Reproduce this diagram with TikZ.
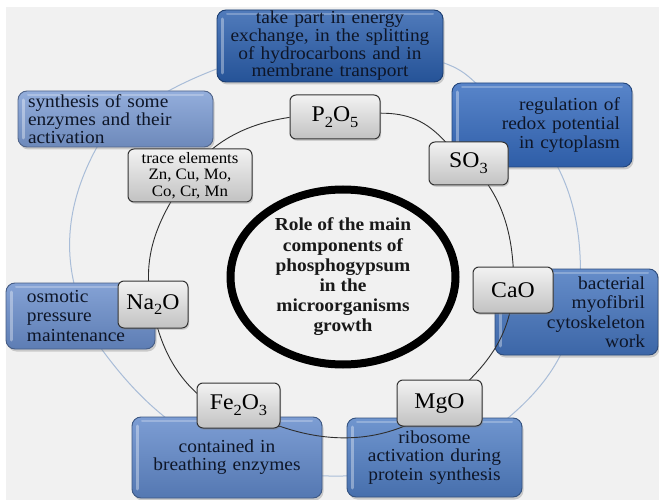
\documentclass[tikz,border=0pt]{standalone}
\usepackage{fontspec}
\setmainfont{Liberation Serif}[FakeStretch=1.06]
\usetikzlibrary{shapes.geometric,shadows}

\pgfdeclarelayer{back}
\pgfdeclarelayer{lowring}
\pgfdeclarelayer{midring}
\pgfdeclarelayer{front}
\pgfsetlayers{back,lowring,main,midring,front}

\definecolor{bgpanel}{HTML}{F1F1F1}
\definecolor{ringblue}{HTML}{A9BDD8}
\definecolor{ringdark}{HTML}{2E2E2E}
\definecolor{inktext}{HTML}{0E1628}
\definecolor{bTop}{RGB}{42,94,172}
\definecolor{bReg}{RGB}{52,106,190}
\definecolor{bBac}{RGB}{68,116,190}
\definecolor{bRib}{RGB}{80,126,196}
\definecolor{bCon}{RGB}{96,136,202}
\definecolor{bOsm}{RGB}{106,142,204}
\definecolor{bSyn}{RGB}{124,156,212}

% chemical subscript, set a little lower and larger than \textsubscript
\newcommand\chemsub[1]{\raisebox{-0.26em}{\fontsize{15.5}{15.5}\selectfont #1}}

\tikzset{
  glossy/.style={path picture={
    \draw[white, opacity=0.35, line width=3pt, line cap=round]
      ([xshift=5pt,yshift=-9pt]path picture bounding box.north west) --
      ([xshift=5pt,yshift=9pt]path picture bounding box.south west);
    \draw[white, opacity=0.25, line width=2pt, line cap=round]
      ([xshift=10pt,yshift=-4pt]path picture bounding box.north west) --
      ([xshift=-10pt,yshift=-4pt]path picture bounding box.north east);
  }},
  infobox/.style={
    rounded corners=9pt, draw=#1!65!black, line width=0.9pt,
    top color=#1!82!white, bottom color=#1!88!black,
    text=inktext, inner sep=0pt,
    font=\fontsize{18.3}{18}\selectfont,
    drop shadow={shadow xshift=1.5pt, shadow yshift=-2.5pt, opacity=0.35},
    glossy},
  oxide/.style={
    rounded corners=6pt, draw=black!80, line width=1pt,
    top color=black!5, bottom color=black!24,
    text=black, inner sep=0pt, align=center,
    font=\fontsize{22.4}{23}\selectfont,
    drop shadow={shadow xshift=1.2pt, shadow yshift=-1.8pt, opacity=0.3}},
  bluering/.style={draw=ringblue, line width=1pt},
  darkring/.style={draw=ringdark, line width=0.9pt},
  corering/.style={ellipse, draw=black, line width=8pt, inner sep=0pt,
    align=center, text=black!90,
    font=\bfseries\fontsize{18.3}{20.2}\selectfont},
}

\begin{document}
\begin{tikzpicture}[x=1pt, y=-1pt]
\path[use as bounding box] (0,0) rectangle (659,500);

% page strip and grey panel
\begin{pgfonlayer}{back}
  \fill[white] (0,0) rectangle (659,500);
  \fill[bgpanel] (6,7) rectangle (659,500);
\end{pgfonlayer}

% outer ring of function boxes
\node[infobox=bTop, minimum width=226pt, minimum height=72pt, text width=214pt,
      align=center, font=\fontsize{18.3}{16.6}\selectfont] (energy) at (330,46)
  {take part in energy\\exchange, in the splitting\\of hydrocarbons and in\\membrane transport};
\node[infobox=bReg, minimum width=180pt, minimum height=84pt, text width=156pt,
      align=right, font=\fontsize{18.3}{19.2}\selectfont] (redox) at (542,125)
  {regulation of\\redox potential\\in cytoplasm};
\node[infobox=bBac, minimum width=163pt, minimum height=86pt, text width=137pt,
      align=right, font=\fontsize{18.3}{19.5}\selectfont] (myo) at (576.5,312)
  {bacterial\\myofibril\\cytoskeleton\\work};
\node[infobox=bRib, minimum width=175pt, minimum height=79pt, text width=165pt,
      align=center, font=\fontsize{18.3}{18.3}\selectfont] (ribo) at (434.5,457.5)
  {ribosome\\activation during\\protein synthesis};
\node[infobox=bCon, minimum width=190pt, minimum height=81pt, text width=180pt,
      align=center] (breath) at (227,457.5)
  {contained in\\breathing enzymes};
\node[infobox=bOsm, minimum width=149pt, minimum height=66pt, text width=107pt,
      align=left, font=\fontsize{18.3}{19.5}\selectfont] (osmo) at (80.5,316)
  {osmotic\\pressure\\maintenance};
\node[infobox=bSyn, minimum width=195pt, minimum height=56pt, text width=175pt,
      align=left, font=\fontsize{18.3}{17.8}\selectfont] (synth) at (115.5,119)
  {synthesis of some\\enzymes and their\\activation};

% inner ring of components and the central title
\begin{pgfonlayer}{front}
  \node[oxide, minimum width=90pt, minimum height=44pt] (p2o5) at (335,117)
    {P\chemsub{2}O\chemsub{5}};
  \node[oxide, minimum width=79pt, minimum height=43pt] (so3) at (468.5,163.5)
    {SO\chemsub{3}};
  \node[oxide, minimum width=80pt, minimum height=46pt] (cao) at (513,290)
    {CaO};
  \node[oxide, minimum width=85pt, minimum height=46pt] (mgo) at (439.5,403)
    {MgO};
  \node[oxide, minimum width=83pt, minimum height=45pt] (fe2o3) at (238.5,405.5)
    {Fe\chemsub{2}O\chemsub{3}};
  \node[oxide, minimum width=70pt, minimum height=47pt] (na2o) at (153,304.5)
    {Na\chemsub{2}O};
  \node[oxide, minimum width=124pt, minimum height=53pt,
        font=\fontsize{15.9}{16.7}\selectfont] (trace) at (190,175.5)
    {trace elements\\Zn, Cu, Mo,\\Co, Cr, Mn};
  \node[corering, minimum width=225pt, minimum height=175pt] (core) at (343,277)
    {Role of the main\\components of\\phosphogypsum\\in the\\microorganisms\\growth};
\end{pgfonlayer}

% pale ring through the function boxes
\begin{pgfonlayer}{lowring}
  \draw[bluering] (energy) to[bend left=12] (redox) to[bend left=29] (myo)
    to[bend left=24] (ribo) to[bend left=19] (breath) to[bend left=24] (osmo)
    to[bend left=30] (synth) to[bend left=12] (energy);
\end{pgfonlayer}

% dark ring through the components
\begin{pgfonlayer}{midring}
  \draw[darkring] (p2o5) to[bend left=24] (so3) to[bend left=25] (cao)
    to[bend left=24] (mgo) to[bend left=33] (fe2o3) to[bend left=35] (na2o)
    to[bend left=24] (trace) to[bend left=27] (p2o5);
\end{pgfonlayer}
\end{tikzpicture}
\end{document}
